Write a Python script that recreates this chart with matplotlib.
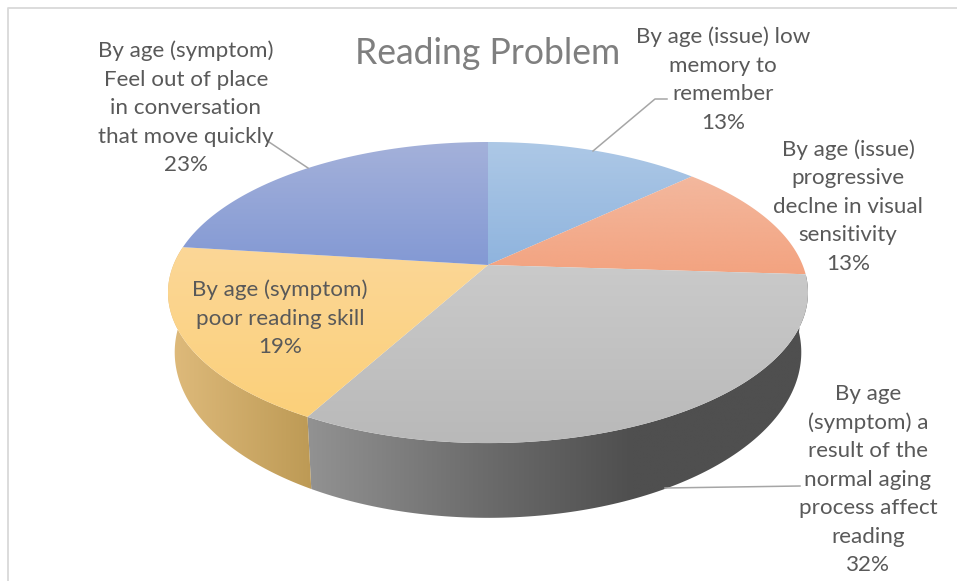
import numpy as np
import matplotlib
matplotlib.use('Agg')
import matplotlib.pyplot as plt
from matplotlib.patches import Polygon
from matplotlib.colors import LinearSegmentedColormap

title = 'Reading Problem'
values = [13, 13, 32, 19, 23]
labels = ['By age (issue) low\nmemory to\nremember\n13%',
          'By age (issue)\nprogressive\ndeclne in visual\nsensitivity\n13%',
          'By age\n(symptom) a\nresult of the\nnormal aging\nprocess affect\nreading\n32%',
          'By age (symptom)\npoor reading skill\n19%',
          'By age (symptom)\nFeel out of place\nin conversation\nthat move quickly\n23%']
# top colours: upper to lower of the vertical gradient
top_cols = [['#adc8e6', '#8fb4de'], ['#f3b89e', '#f3a380'], ['#cacaca', '#b9b9b9'],
            ['#fcd797', '#fbd07a'], ['#a4b1da', '#8399d4']]
# side colours: left to right of the horizontal gradient
side_cols = {2: [(0.0, '#929292'), (0.35, '#6c6c6c'), (0.65, '#4f4f4f'), (1.0, '#4f4f4f')],
             3: [(0.0, '#dfbb7c'), (1.0, '#bd9a55')]}
label_pos = [(723, 79.5), (848, 206.5), (868, 479.5), (280, 318.5), (186, 108)]
leaders = [([593, 655, 667], [151, 99, 99]),
           ([665, 800], [488, 486]),
           ([269, 308], [142, 168])]

cx = 488
cy = 265
k = 0.183


def proj(theta, a=314.6, b=145.5, d=0.0):
    # disc seen in perspective, theta clockwise from the top
    s = np.sin(theta)
    c = np.cos(theta)
    return cx + a * s / (1 + k * c), cy + d - b * c / (1 + k * c)


def gradient_fill(ax, xs, ys, stops, horizontal=False, zorder=2):
    poly = Polygon(np.column_stack([xs, ys]), closed=True, fc='none', ec='none',
                   transform=ax.transData)
    ax.add_patch(poly)
    cmap = LinearSegmentedColormap.from_list('g', stops)
    grad = cmap(np.linspace(0, 1, 256))[:, None, :3]
    if horizontal:
        grad = grad.transpose(1, 0, 2)
    im = ax.imshow(grad, extent=(min(xs), max(xs), max(ys), min(ys)), aspect='auto',
                   interpolation='bilinear', zorder=zorder)
    im.set_clip_path(poly)


fig = plt.figure(figsize=(9.57, 5.81), dpi=100)
ax = fig.add_axes([0, 0, 1, 1])
plt.rcParams['font.family'] = ['Lato', 'DejaVu Sans']

edges = np.cumsum([0] + values) / float(sum(values)) * 2 * np.pi

# sides first, only the front two can be seen
for i in side_cols:
    th = np.linspace(edges[i], edges[i + 1], 120)
    x1, y1 = proj(th)
    x2, y2 = proj(th, a=308.0, b=160.0, d=57.0)
    xs = np.r_[x1, x2[::-1]]
    ys = np.r_[y1, y2[::-1]]
    gradient_fill(ax, xs, ys, side_cols[i], horizontal=True, zorder=2)

for i in range(len(values)):
    th = np.linspace(edges[i], edges[i + 1], 120)
    x1, y1 = proj(th)
    xs = np.r_[cx, x1]
    ys = np.r_[cy, y1]
    gradient_fill(ax, xs, ys, top_cols[i], zorder=3)

for lx, ly in leaders:
    ax.plot(lx, ly, color='#a6a6a6', lw=1.1, zorder=4)

for i in range(len(labels)):
    ax.text(label_pos[i][0], label_pos[i][1], labels[i], ha='center', va='center',
            multialignment='center', fontsize=16.1, color='#595959', linespacing=1.53, zorder=5)

ax.text(488, 53, title, ha='center', va='center', fontsize=25.6, color='#7f7f7f', zorder=5)

# chart frame, cut by the crop on the right and at the bottom
ax.plot([7.5, 7.5, 957], [581, 8, 8], color='#d9d9d9', lw=1.3, zorder=1)

ax.set_xlim(0, 957)
ax.set_ylim(581, 0)
ax.axis('off')
fig.savefig('out.png', dpi=100)
